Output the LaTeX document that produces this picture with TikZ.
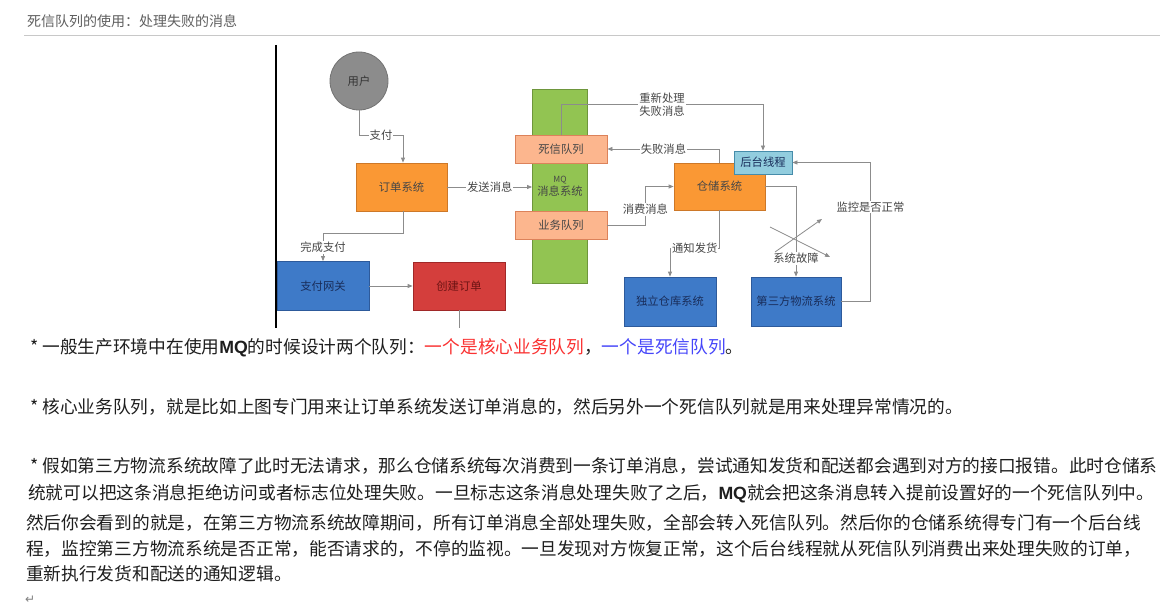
\documentclass[tikz,border=0pt]{standalone}
\usepackage{fontspec}
\usetikzlibrary{arrows.meta}
\newfontfamily\cjk{Noto Sans CJK SC}
\newfontfamily\arialf{Liberation Sans}
\newfontfamily\djv{DejaVu Sans}
\definecolor{conncol}{RGB}{140,140,140}
\definecolor{lblcol}{RGB}{70,70,70}
\definecolor{orangef}{RGB}{250,152,52}
\definecolor{oranged}{RGB}{205,120,40}
\definecolor{greenf}{RGB}{146,196,82}
\definecolor{greend}{RGB}{110,150,60}
\definecolor{salmonf}{RGB}{252,182,142}
\definecolor{salmond}{RGB}{220,130,90}
\definecolor{lbluef}{RGB}{146,205,222}
\definecolor{lblued}{RGB}{70,140,170}
\definecolor{bluef}{RGB}{62,122,200}
\definecolor{blued}{RGB}{45,90,155}
\definecolor{bluet}{RGB}{25,45,90}
\definecolor{redf}{RGB}{212,62,60}
\definecolor{redd}{RGB}{160,40,40}
\definecolor{redt}{RGB}{110,20,20}
\definecolor{grayf}{RGB}{140,140,140}
\definecolor{grayd}{RGB}{115,115,115}
\definecolor{bodytxt}{RGB}{30,30,30}
\definecolor{redtxt}{RGB}{250,50,50}
\definecolor{bluetxt}{RGB}{70,70,250}
\definecolor{titlecol}{RGB}{95,95,95}
\definecolor{rulecol}{RGB}{200,200,200}
\tikzset{
  dfont/.style={font=\cjk\fontsize{11.3}{13}\selectfont},
  boxbase/.style={draw, line width=0.8pt, dfont, inner sep=1pt},
  obox/.style={boxbase, fill=orangef, draw=oranged, text=lblcol, minimum width=91pt, minimum height=48pt},
  sbox/.style={boxbase, fill=salmonf, draw=salmond, text=lblcol, minimum width=92pt, minimum height=28pt},
  bbox/.style={boxbase, fill=bluef, draw=blued, text=bluet, minimum width=92pt, minimum height=49pt},
  rbox/.style={boxbase, fill=redf, draw=redd, text=redt, minimum width=92pt, minimum height=48pt},
  conn/.style={draw=conncol, line width=0.8pt, -{Triangle[length=5pt,width=4pt]}},
  lbl/.style={fill=white, inner sep=1pt, text=lblcol, dfont},
  body/.style={anchor=west, inner sep=0pt, text=bodytxt, font=\cjk\fontsize{17.7}{20}\selectfont}
}
\begin{document}
\begin{tikzpicture}[x=1pt,y=-1pt]
\useasboundingbox (0,0) rectangle (1167,615);
\fill[white] (0,0) rectangle (1167,615);
% title
\node[anchor=west, inner sep=0pt, text=titlecol, font=\cjk\fontsize{14}{15}\selectfont] (title) at (27,21) {死信队列的使用：处理失败的消息};
\coordinate (ruleL) at (24,35.5);
\coordinate (ruleR) at (1160,35.5);
\draw[rulecol, line width=0.8pt] (ruleL) -- (ruleR);
% separator
\coordinate (sepT) at (276,45);
\coordinate (sepB) at (276,328);
\draw[black, line width=1.2pt] (sepT) -- (sepB);
% nodes
\node[circle, fill=grayf, draw=grayd, line width=0.8pt, minimum size=58pt, inner sep=0pt, dfont, text=black!80] (user) at (359,81) {用户};
\node[obox] (order) at (401.5,187) {订单系统};
\node[boxbase, fill=greenf, draw=greend, text=lblcol, minimum width=55pt, minimum height=194pt, align=center] (mq) at (560,186) {{\fontsize{8.5}{9}\selectfont MQ}\\消息系统};
\node[sbox] (dlq) at (561,149) {死信队列};
\node[sbox] (bizq) at (561,225) {业务队列};
\node[obox, minimum height=47pt] (wh) at (719.5,186.5) {仓储系统};
\node[boxbase, fill=lbluef, draw=lblued, text=bluet, minimum width=58pt, minimum height=23pt] (bg) at (763,162.5) {后台线程};
\node[bbox] (indep) at (670,301.5) {独立仓库系统};
\node[bbox, minimum width=90pt] (third) at (796,301.5) {第三方物流系统};
\node[bbox] (pay) at (323,286) {支付网关};
\node[rbox] (create) at (459,286) {创建订单};
% connectors
\draw[conn] (user.south) -- ++(0,25) -| node[pos=0.25, lbl] {支付} ([xshift=1.5pt]order.north);
\draw[conn] (order.east) -- node[lbl] {发送消息} (order.east -| mq.west);
\draw[conn] (dlq.north) -- ++(0,-30) -| node[pos=0.25, lbl, align=center] {重新处理\\失败消息} (bg.north);
\draw[conn] (wh.north) |- node[pos=0.75, lbl] {失败消息} (dlq.east);
\draw[conn] (bizq.east) -- ++(38,0) |- node[pos=0.2, lbl] {消费消息} (wh.west);
\draw[conn] (wh.south) -- ++(0,38) -| node[pos=0.25, lbl] {通知发货} (indep.north);
\draw[conn] (wh.east) -| node[pos=0.9, lbl] {系统故障} (third.north);
\draw[conn] (third.east) -- ++(29,0) |- node[pos=0.34, lbl] {监控是否正常} (bg.east);
\draw[conn] ([xshift=1.5pt]order.south) -- ++(0,22) -| node[pos=0.75, lbl] {完成支付} (pay.north);
\draw[conn] (pay.east) -- (create.west);
\coordinate (cut) at (459,328);
\draw[draw=conncol, line width=0.8pt] (create.south) -- (cut);
% cross
\coordinate (xa1) at (770,227);
\coordinate (xb1) at (830,257);
\coordinate (xa2) at (775,252);
\coordinate (xb2) at (822,219);
\draw[conn] (xa1) -- (xb1);
\draw[conn] (xa2) -- (xb2);
% body text
\node[body] (l1) at (30,348) {*\hspace{4pt}一般生产环境中在使用{\arialf\bfseries MQ}的时候设计两个队列：\textcolor{redtxt}{一个是核心业务队列}，\textcolor{bluetxt}{一个是死信队列}。};
\node[body] (l2) at (30,407) {*\hspace{4pt}核心业务队列，就是比如上图专门用来让订单系统发送订单消息的，然后另外一个死信队列就是用来处理异常情况的。};
\node[body] (l3) at (30,466) {*\hspace{4pt}假如第三方物流系统故障了此时无法请求，那么仓储系统每次消费到一条订单消息，尝试通知发货和配送都会遇到对方的接口报错。此时仓储系};
\node[body] (l4) at (28,494) {统就可以把这条消息拒绝访问或者标志位处理失败。一旦标志这条消息处理失败了之后，{\arialf\bfseries MQ}就会把这条消息转入提前设置好的一个死信队列中。};
\node[body] (l5) at (26,523) {然后你会看到的就是，在第三方物流系统故障期间，所有订单消息全部处理失败，全部会转入死信队列。然后你的仓储系统得专门有一个后台线};
\node[body] (l6) at (26,549) {程，监控第三方物流系统是否正常，能否请求的，不停的监视。一旦发现对方恢复正常，这个后台线程就从死信队列消费出来处理失败的订单，};
\node[body] (l7) at (26,574) {重新执行发货和配送的通知逻辑。};
\node[anchor=west, inner sep=0pt, text=gray, font=\djv\fontsize{12}{13}\selectfont] (ret) at (25,600) {↵};
\end{tikzpicture}
\end{document}
